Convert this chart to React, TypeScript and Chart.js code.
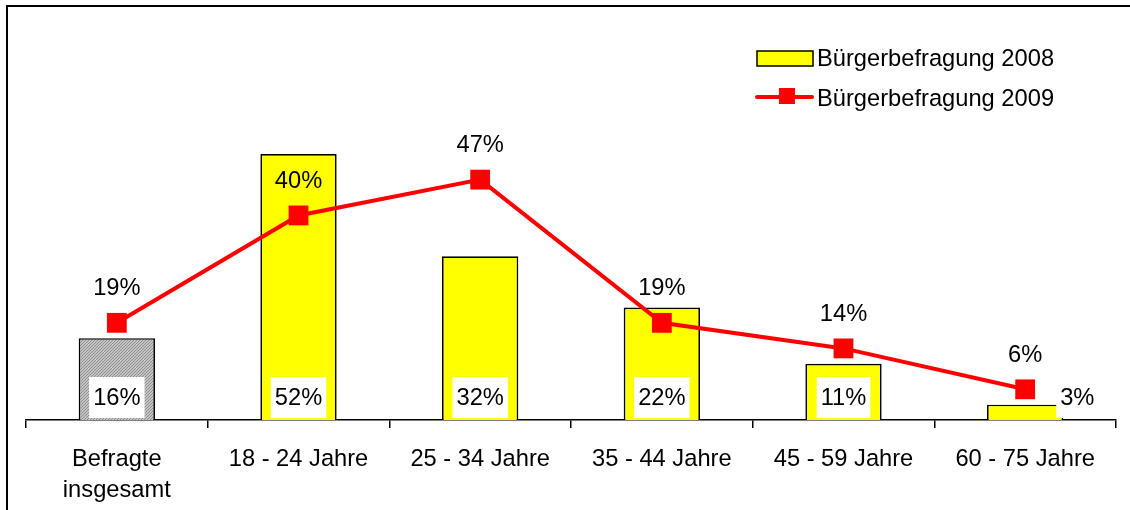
import React, { useEffect, useRef } from 'react';
import { Chart, registerables } from 'chart.js';

Chart.register(...registerables);

const categories: (string | string[])[] = [
  ['Befragte', 'insgesamt'],
  '18 - 24 Jahre',
  '25 - 34 Jahre',
  '35 - 44 Jahre',
  '45 - 59 Jahre',
  '60 - 75 Jahre',
];
const values2008 = [16, 52, 32, 22, 11, 3];
const values2009 = [19, 40, 47, 19, 14, 6];
const label2008 = 'Bürgerbefragung 2008';
const label2009 = 'Bürgerbefragung 2009';

const FONT = '"Liberation Sans", Arial, sans-serif';
const FONT_SIZE = 23.7;

function makeHatch(ctx: CanvasRenderingContext2D) {
  const c = document.createElement('canvas');
  c.width = 3;
  c.height = 3;
  const g = c.getContext('2d')!;
  g.fillStyle = '#c4c4c4';
  g.fillRect(0, 0, 3, 3);
  g.fillStyle = '#8e8e8e';
  g.fillRect(2, 0, 1, 1);
  g.fillRect(1, 1, 1, 1);
  g.fillRect(0, 2, 1, 1);
  return ctx.createPattern(c, 'repeat');
}

const framePlugin = {
  id: 'frame',
  beforeDraw(chart: any) {
    const ctx = chart.ctx as CanvasRenderingContext2D;
    ctx.save();
    ctx.fillStyle = '#ffffff';
    ctx.fillRect(0, 0, chart.width, chart.height);
    ctx.strokeStyle = '#000000';
    ctx.lineWidth = 2;
    ctx.beginPath();
    ctx.moveTo(1130, 6);
    ctx.lineTo(7, 6);
    ctx.lineTo(7, 510);
    ctx.stroke();
    ctx.restore();
  },
};

const labelsPlugin = {
  id: 'valueLabels',
  afterDatasetsDraw(chart: any) {
    const ctx = chart.ctx as CanvasRenderingContext2D;
    const barMeta = chart.getDatasetMeta(0);
    const lineMeta = chart.getDatasetMeta(1);
    const baseY = chart.scales.y.getPixelForValue(0);
    ctx.save();
    ctx.font = `${FONT_SIZE}px ${FONT}`;
    ctx.textAlign = 'center';
    ctx.textBaseline = 'middle';
    barMeta.data.forEach((bar: any, i: number) => {
      const txt = `${values2008[i]}%`;
      const tw = ctx.measureText(txt).width;
      const boxW = tw + 8;
      const boxH = 41;
      const barH = baseY - bar.y;
      let cx = bar.x;
      if (barH < boxH) cx = bar.x + bar.width / 2 + 14;
      const boxBottom = baseY - 2;
      ctx.fillStyle = '#ffffff';
      ctx.fillRect(cx - boxW / 2, boxBottom - boxH, boxW, boxH);
      ctx.fillStyle = '#000000';
      ctx.fillText(txt, cx, boxBottom - boxH / 2 + 1);
    });
    lineMeta.data.forEach((pt: any, i: number) => {
      const txt = `${values2009[i]}%`;
      ctx.fillStyle = '#000000';
      ctx.fillText(txt, pt.x, pt.y - 34);
    });
    ctx.restore();
  },
};

const legendPlugin = {
  id: 'customLegend',
  afterDraw(chart: any) {
    const ctx = chart.ctx as CanvasRenderingContext2D;
    ctx.save();
    ctx.fillStyle = '#ffff00';
    ctx.fillRect(757, 51, 56, 15);
    ctx.strokeStyle = '#000000';
    ctx.lineWidth = 1.5;
    ctx.strokeRect(757, 51, 56, 15);
    ctx.strokeStyle = '#ff0000';
    ctx.lineWidth = 4;
    ctx.lineCap = 'round';
    ctx.beginPath();
    ctx.moveTo(757, 97);
    ctx.lineTo(812, 97);
    ctx.stroke();
    ctx.fillStyle = '#ff0000';
    ctx.fillRect(779, 88, 16, 16);
    ctx.fillStyle = '#000000';
    ctx.font = `${FONT_SIZE}px ${FONT}`;
    ctx.textAlign = 'left';
    ctx.textBaseline = 'middle';
    ctx.fillText(label2008, 817, 59);
    ctx.fillText(label2009, 817, 99);
    ctx.restore();
  },
};

export default function App() {
  const ref = useRef<HTMLCanvasElement | null>(null);

  useEffect(() => {
    const canvas = ref.current!;
    const ctx = canvas.getContext('2d')!;
    const hatch = makeHatch(ctx);
    const barColors = values2008.map((_, i) => (i === 0 ? hatch : '#ffff00'));

    const chart = new Chart(canvas, {
      type: 'bar',
      data: {
        labels: categories,
        datasets: [
          {
            type: 'bar',
            label: label2008,
            data: values2008,
            backgroundColor: barColors as any,
            borderColor: '#000000',
            borderWidth: 1.7,
            categoryPercentage: 1,
            barPercentage: 0.42,
            order: 2,
          } as any,
          {
            type: 'line',
            label: label2009,
            data: values2009,
            borderColor: '#ff0000',
            backgroundColor: '#ff0000',
            borderWidth: 4,
            pointStyle: 'rect',
            pointRadius: 14,
            pointBorderWidth: 0,
            pointBackgroundColor: '#ff0000',
            fill: false,
            tension: 0,
            order: 1,
          } as any,
        ],
      },
      options: {
        animation: false,
        responsive: false,
        devicePixelRatio: 1,
        layout: { padding: { left: 26, right: 14, top: 62, bottom: 0 } },
        plugins: {
          legend: { display: false },
          tooltip: { enabled: false },
        },
        scales: {
          x: {
            offset: true,
            grid: {
              display: true,
              offset: true,
              drawOnChartArea: false,
              drawTicks: true,
              tickLength: 8,
              color: '#000000',
              lineWidth: 1.5,
            },
            border: { display: true, color: '#000000', width: 1.5 },
            ticks: {
              color: '#000000',
              font: { family: FONT, size: FONT_SIZE, lineHeight: 1.3 },
              padding: 16,
              maxRotation: 0,
              autoSkip: false,
            },
            afterFit: (scale: any) => {
              scale.height = 90;
            },
          },
          y: {
            display: false,
            min: 0,
            max: 70,
          },
        },
      },
      plugins: [framePlugin, labelsPlugin, legendPlugin],
    });
    return () => chart.destroy();
  }, []);

  return (
    <div style={{ position: 'absolute', left: 0, top: 0, width: 1130, height: 510 }}>
      <canvas ref={ref} width={1130} height={510} style={{ display: 'block' }} />
    </div>
  );
}
